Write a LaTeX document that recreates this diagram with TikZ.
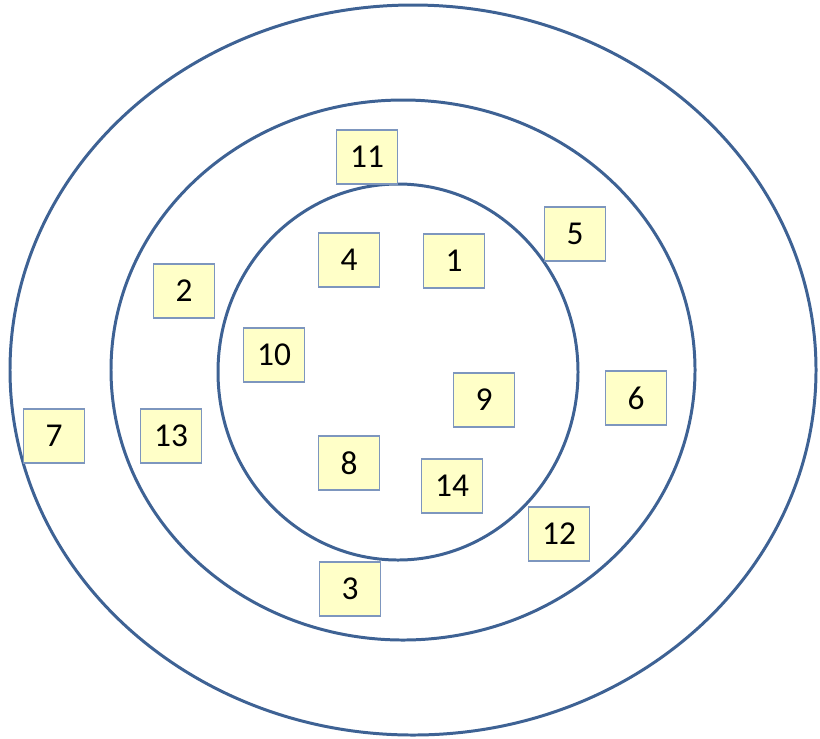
\documentclass[tikz,border=0pt]{standalone}
\usepackage{fontspec}
\setmainfont{Carlito}
\usepackage{xcolor}
\usepackage{tikz}
\definecolor{ringblue}{RGB}{62,98,148}
\definecolor{tagfill}{RGB}{255,255,200}
\definecolor{tagedge}{RGB}{125,150,190}

\begin{document}
\begin{tikzpicture}[
  x=0.02cm, y=-0.02cm,
  ring/.style={draw=ringblue, line width=1.7pt},
  tag/.style={
    draw=tagedge,
    line width=0.8pt,
    fill=tagfill,
    minimum width=1.22cm,
    minimum height=1.08cm,
    inner sep=0pt,
    font=\fontsize{19}{22}\selectfont
  }
]
\useasboundingbox (0,0) rectangle (820,738);
% rings
\draw[ring] (413,370) ellipse [x radius=403, y radius=365];
\draw[ring] (403,370) ellipse [x radius=292, y radius=270];
\draw[ring] (398,372) ellipse [x radius=180, y radius=188];
% tags
\node[tag] (t11) at (367,157) {11};
\node[tag] (t5) at (575,234) {5};
\node[tag] (t4) at (349,260) {4};
\node[tag] (t1) at (454,261) {1};
\node[tag] (t2) at (184,291) {2};
\node[tag] (t10) at (274,355) {10};
\node[tag] (t9) at (484,400) {9};
\node[tag] (t6) at (636,398) {6};
\node[tag] (t7) at (54,436) {7};
\node[tag] (t13) at (171,436) {13};
\node[tag] (t8) at (349,463) {8};
\node[tag] (t14) at (452,486) {14};
\node[tag] (t12) at (559,534) {12};
\node[tag] (t3) at (350,589) {3};
\end{tikzpicture}
\end{document}
